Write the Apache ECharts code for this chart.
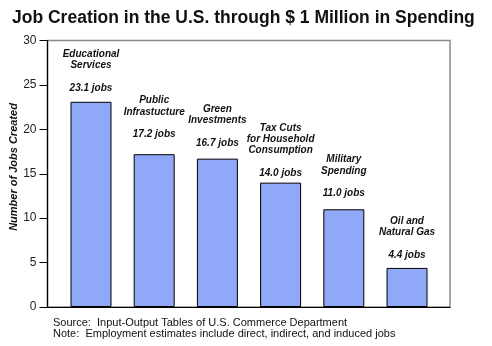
<!DOCTYPE html>
<html>
<head>
<meta charset="utf-8">
<script src="https://cdn.jsdelivr.net/npm/echarts@6/dist/echarts.min.js"></script>
<style>html,body{margin:0;padding:0;background:#fff;}#c{width:492px;height:346px;}</style>
</head>
<body>
<div id="c"></div>
<script>
const categories = [
  'Educational\nServices',
  'Public\nInfrastucture',
  'Green\nInvestments',
  'Tax Cuts\nfor Household\nConsumption',
  'Military\nSpending',
  'Oil and\nNatural Gas'
];
const jobs = [23.1, 17.2, 16.7, 14.0, 11.0, 4.4];
const yTicks = [0, 5, 10, 15, 20, 25, 30];
const labelLift = [8, 14, 10, 4, 10, 7];

const FONT = '"Liberation Sans", Arial, sans-serif';
const chart = echarts.init(document.getElementById('c'), null, {renderer: 'canvas'});

const barData = jobs.map((v, i) => ({
  value: [i, v],
  label: {
    distance: labelLift[i],
    formatter: categories[i] + '\n\n' + v.toFixed(1) + ' jobs'
  }
}));

chart.setOption({
  animation: false,
  backgroundColor: '#ffffff',
  title: {
    text: 'Job Creation in the U.S. through $ 1 Million in Spending',
    left: 7,
    top: 3,
    textStyle: {fontFamily: FONT, fontSize: 17.5, fontWeight: 'bold', color: '#111', lineHeight: 20}
  },
  grid: {
    left: 47.5, right: 42, top: 40.5, bottom: 39,
    show: true, borderColor: '#8a8a8a', borderWidth: 1.5, backgroundColor: '#fff'
  },
  xAxis: {
    type: 'value', min: -0.688, max: 5.68,
    axisLine: {show: true, lineStyle: {color: '#000', width: 1.2}},
    axisTick: {show: false}, axisLabel: {show: false}, splitLine: {show: false}
  },
  yAxis: {
    type: 'value', min: yTicks[0], max: yTicks[yTicks.length - 1], interval: 5,
    axisLine: {show: true, onZero: false, lineStyle: {color: '#000', width: 1.2}},
    axisTick: {show: true, inside: false, length: 8, lineStyle: {color: '#000'}},
    axisLabel: {fontFamily: FONT, fontSize: 12, color: '#222', margin: 11},
    splitLine: {show: false}
  },
  series: [{
    type: 'bar',
    barWidth: 41,
    data: barData,
    itemStyle: {color: '#8fa8f8', borderColor: '#000', borderWidth: 1},
    label: {
      show: true, position: 'top',
      fontFamily: FONT, fontSize: 10, fontWeight: 'bold', fontStyle: 'italic',
      color: '#111', lineHeight: 11.3, align: 'center'
    }
  }],
  graphic: [
    {type: 'text', x: 13.5, y: 167, rotation: Math.PI / 2,
     style: {text: 'Number of Jobs Created', font: 'italic bold 11px ' + FONT, fill: '#111', textAlign: 'center', textVerticalAlign: 'middle'}},
    {type: 'text', left: 53, top: 317, style: {text: 'Source:  Input-Output Tables of U.S. Commerce Department', font: '11px ' + FONT, fill: '#111'}},
    {type: 'text', left: 53, top: 328.5, style: {text: 'Note:  Employment estimates include direct, indirect, and induced jobs', font: '11px ' + FONT, fill: '#111'}}
  ]
});
</script>
</body>
</html>
